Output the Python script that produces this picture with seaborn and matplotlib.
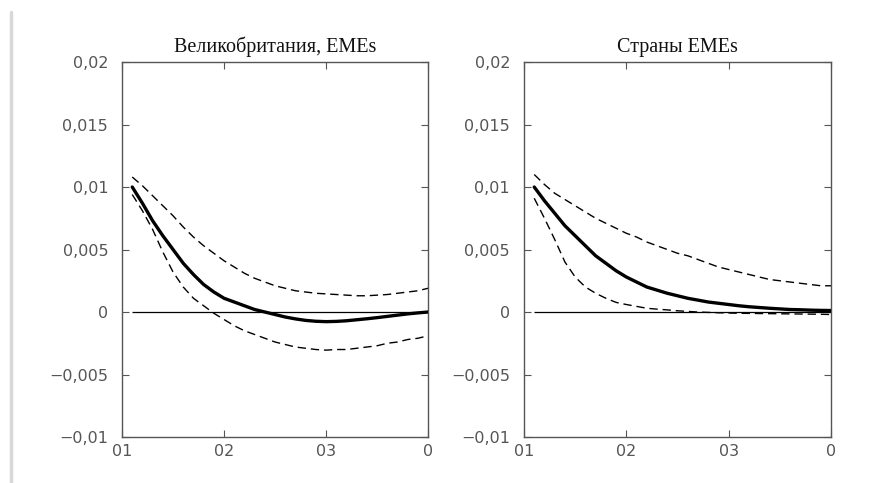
import numpy as np
import pandas as pd
import matplotlib
matplotlib.use("Agg")
import matplotlib.pyplot as plt
from matplotlib.lines import Line2D
import seaborn as sns

# ---- data ----
horizon = [0.1, 0.2, 0.3, 0.4, 0.5, 0.6, 0.7, 0.8, 0.9, 1.0,
           1.1, 1.2, 1.3, 1.4, 1.5, 1.6, 1.7, 1.8, 1.9, 2.0,
           2.1, 2.2, 2.3, 2.4, 2.5, 2.6, 2.7, 2.8, 2.9, 3.0]

uk_mean = [0.0100, 0.0087, 0.0073, 0.0061, 0.0050, 0.0039, 0.0030, 0.0022, 0.0016, 0.0011,
           0.0008, 0.0005, 0.0002, 0.0000, -0.0002, -0.0004, -0.00055, -0.00067, -0.00074, -0.00077,
           -0.00075, -0.0007, -0.00062, -0.00054, -0.00045, -0.00035, -0.00025, -0.00015, -0.00007, 0.0]
uk_upper = [0.0108, 0.0101, 0.0093, 0.0085, 0.0077, 0.0068, 0.0060, 0.0053, 0.0047, 0.0041,
            0.0036, 0.0031, 0.0027, 0.0024, 0.0021, 0.0019, 0.0017, 0.0016, 0.0015, 0.00145,
            0.0014, 0.00135, 0.0013, 0.0013, 0.00135, 0.0014, 0.0015, 0.0016, 0.0017, 0.0019]
uk_lower = [0.0094, 0.0081, 0.0066, 0.0048, 0.0032, 0.0020, 0.0011, 0.0005, -0.0001, -0.0006,
            -0.0011, -0.0015, -0.0018, -0.0021, -0.0024, -0.0026, -0.0028, -0.0029, -0.0030, -0.00305,
            -0.0030, -0.0030, -0.0029, -0.0028, -0.0027, -0.0025, -0.0024, -0.0022, -0.0021, -0.0019]

em_mean = [0.0100, 0.0089, 0.0079, 0.0069, 0.0061, 0.0053, 0.0045, 0.0039, 0.0033, 0.0028,
           0.0024, 0.0020, 0.00175, 0.0015, 0.0013, 0.0011, 0.00095, 0.0008, 0.0007, 0.0006,
           0.0005, 0.00042, 0.00036, 0.0003, 0.00025, 0.0002, 0.00018, 0.00015, 0.00013, 0.00012]
em_upper = [0.0110, 0.0102, 0.0095, 0.0090, 0.0085, 0.0080, 0.0075, 0.0071, 0.0067, 0.0063,
            0.0060, 0.0056, 0.0053, 0.0050, 0.0047, 0.0045, 0.0042, 0.0039, 0.0036, 0.0034,
            0.0032, 0.0030, 0.0028, 0.0026, 0.0025, 0.0024, 0.0023, 0.0022, 0.0021, 0.0021]
em_lower = [0.0091, 0.0075, 0.0058, 0.0040, 0.0028, 0.0020, 0.0015, 0.0011, 0.00077, 0.0006,
            0.00045, 0.0003, 0.00023, 0.00017, 0.0001, 0.00005, 0.0, -0.00003, -0.00006, -0.00008,
            -0.0001, -0.00011, -0.00012, -0.00013, -0.00014, -0.00015, -0.00016, -0.00017, -0.00018, -0.0002]

titles = ["Великобритания, EMEs", "Страны EMEs"]
x_ticks = [0, 1, 2, 3]
x_tick_labels = ["01", "02", "03", "0"]
y_ticks = [-0.01, -0.005, 0, 0.005, 0.01, 0.015, 0.02]
y_tick_labels = ["\u22120,01", "\u22120,005", "0", "0,005", "0,01", "0,015", "0,02"]

panels = [(uk_mean, uk_upper, uk_lower), (em_mean, em_upper, em_lower)]

sns.set_theme(style="white")
plt.rcParams["font.family"] = ["DejaVu Sans"]

fig = plt.figure(figsize=(8.85, 4.83), dpi=100)
positions = [[0.1379, 0.0952, 0.3458, 0.7764], [0.5921, 0.0952, 0.3469, 0.7764]]

gray = "#555555"
for pos, title, (m, u, l) in zip(positions, titles, panels):
    ax = fig.add_axes(pos)
    df = pd.DataFrame({"h": horizon, "mean": m, "upper": u, "lower": l})
    ax.hlines(0, df["h"].iloc[0], df["h"].iloc[-1], color="black", lw=0.9, zorder=1)
    sns.lineplot(data=df, x="h", y="upper", ax=ax, color="black", lw=1.0,
                 zorder=2).lines[-1].set_dashes([6, 3.5])
    sns.lineplot(data=df, x="h", y="lower", ax=ax, color="black", lw=1.0,
                 zorder=2).lines[-1].set_dashes([6, 3.5])
    sns.lineplot(data=df, x="h", y="mean", ax=ax, color="black", lw=2.4, zorder=3)
    ax.set_xlim(0, 3)
    ax.set_ylim(-0.01, 0.02)
    ax.set_xticks(x_ticks)
    ax.set_xticklabels(x_tick_labels)
    ax.set_yticks(y_ticks)
    ax.set_yticklabels(y_tick_labels)
    ax.set_xlabel("")
    ax.set_ylabel("")
    ax.tick_params(direction="in", length=5, width=0.8, color=gray,
                   labelcolor="#555555", labelsize=11.5,
                   top=True, right=True, bottom=True, left=True)
    ax.tick_params(axis="x", pad=5)
    ax.tick_params(axis="y", pad=10)
    for s in ax.spines.values():
        s.set_color(gray)
        s.set_linewidth(1.0)
        s.set_visible(True)
    ax.set_title(title, family=["Liberation Serif", "DejaVu Serif"], fontsize=14.5,
                 color="#111111", pad=7)

fig.add_artist(Line2D([0.0125, 0.0125], [0.0, 0.975], color="#d8d8d8", lw=2.5,
                      transform=fig.transFigure))

fig.savefig("out.png", dpi=100, facecolor="white")
